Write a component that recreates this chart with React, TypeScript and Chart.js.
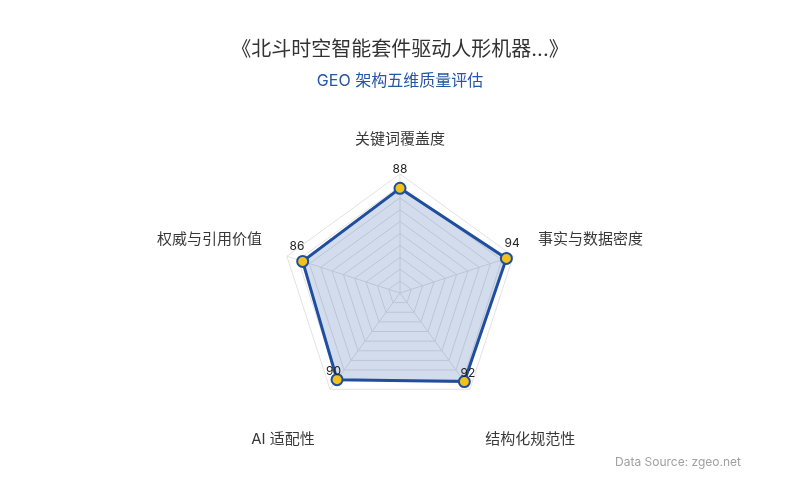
import React, { useEffect, useRef } from "react";
import { Chart, registerables } from "chart.js";

Chart.register(...registerables);

const categories: string[] = ["关键词覆盖度", "事实与数据密度", "结构化规范性", "AI 适配性", "权威与引用价值"];
const scores: number[] = [88, 94, 92, 90, 86];
const titleText = "《北斗时空智能套件驱动人形机器...》";
const subtitleText = "GEO 架构五维质量评估";
const sourceText = "Data Source: zgeo.net";

const FONT = "Inter, 'Noto Sans CJK SC', 'Noto Sans', sans-serif";
const BLUE = "#1f4e9f";

const labelsPlugin = {
  id: "customLabels",
  afterDatasetsDraw(chart: any) {
    const ctx = chart.ctx;
    const scale = chart.scales.r;
    const cx = scale.xCenter;
    const cy = scale.yCenter;
    ctx.save();
    // axis names
    ctx.font = `15px ${FONT}`;
    ctx.fillStyle = "#383838";
    categories.forEach((name, i) => {
      const p = scale.getPointPosition(i, scale.drawingArea + 26);
      let align: CanvasTextAlign = "center";
      if (p.x > cx + 1) align = "left";
      else if (p.x < cx - 1) align = "right";
      ctx.textAlign = align;
      if (p.y < cy) {
        ctx.textBaseline = "bottom";
        ctx.fillText(name, p.x, p.y - 1);
      } else {
        ctx.textBaseline = "top";
        ctx.fillText(name, p.x, p.y + 22);
      }
    });
    // value labels
    const meta = chart.getDatasetMeta(0);
    ctx.font = `12px ${FONT}`;
    ctx.fillStyle = "#222222";
    ctx.textAlign = "center";
    ctx.textBaseline = "middle";
    meta.data.forEach((pt: any, i: number) => {
      const dx = pt.x - cx;
      const dy = pt.y - cy;
      const len = Math.sqrt(dx * dx + dy * dy) || 1;
      const x = pt.x + (dx / len) * 6;
      const y = pt.y + (dy / len) * 6 - 13;
      ctx.fillText(String(scores[i]), x, y);
    });
    ctx.restore();
  },
  afterDraw(chart: any) {
    const ctx = chart.ctx;
    ctx.save();
    ctx.font = `12px ${FONT}`;
    ctx.fillStyle = "#a0a0a0";
    ctx.textAlign = "right";
    ctx.textBaseline = "middle";
    ctx.fillText(sourceText, 741, 462);
    ctx.restore();
  },
};

export default function App() {
  const canvasRef = useRef<HTMLCanvasElement | null>(null);

  useEffect(() => {
    if (!canvasRef.current) return;
    const chart = new Chart(canvasRef.current, {
      type: "radar",
      data: {
        labels: categories,
        datasets: [
          {
            data: scores,
            borderColor: BLUE,
            borderWidth: 3,
            backgroundColor: "rgba(31, 78, 159, 0.2)",
            fill: true,
            pointBackgroundColor: "#f2c21b",
            pointBorderColor: BLUE,
            pointBorderWidth: 2,
            pointRadius: 5.5,
            pointHoverRadius: 5.5,
          },
        ],
      },
      options: {
        animation: false,
        responsive: true,
        maintainAspectRatio: false,
        layout: { padding: { top: 0, bottom: 87, left: 0, right: 0 } },
        plugins: {
          legend: { display: false },
          tooltip: { enabled: false },
          title: {
            display: true,
            text: titleText,
            color: "#333333",
            font: { size: 20, weight: "normal", family: FONT },
            padding: { top: 38, bottom: 10 },
          },
          subtitle: {
            display: true,
            text: subtitleText,
            color: "#2756a6",
            font: { size: 16, weight: "normal", family: FONT },
            padding: { top: 0, bottom: 82 },
          },
        },
        scales: {
          r: {
            min: 0,
            max: 100,
            ticks: { display: false, stepSize: 10 },
            pointLabels: { display: false },
            grid: { color: "#e2e2e2", lineWidth: 1 },
            angleLines: { color: "#e2e2e2", lineWidth: 1 },
          },
        },
      },
      plugins: [labelsPlugin],
    });
    return () => chart.destroy();
  }, []);

  return (
    <div style={{ position: "fixed", left: 0, top: 0, width: 800, height: 500, background: "#ffffff" }}>
      <canvas ref={canvasRef} />
    </div>
  );
}
